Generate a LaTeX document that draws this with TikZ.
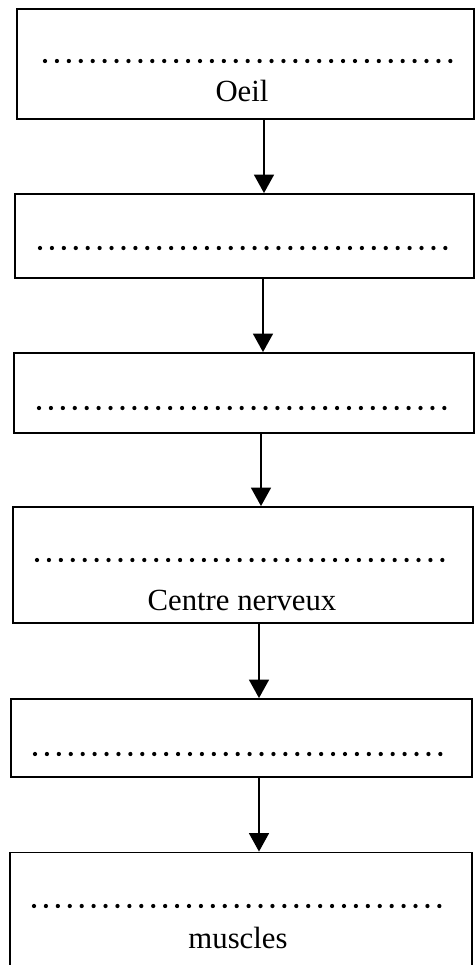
\documentclass[tikz,border=0pt]{standalone}
\usepackage{fontspec}
\setmainfont{Liberation Serif}
\usetikzlibrary{arrows.meta,calc}

\tikzset{
  etape/.style={draw=black, line width=1.1pt, minimum width=#1*0.02cm},
  pointilles/.style={line width=0.085cm, line cap=round, dash pattern=on 0pt off 0.2385cm},
  fleche/.style={line width=1pt, -{Triangle[width=0.4cm,length=0.37cm]}},
  mot/.style={font=\fontsize{17.5}{20}\selectfont, inner sep=0pt}
}

\begin{document}
\begin{tikzpicture}[x=0.02cm, y=-0.02cm]
  \clip (0,0) rectangle (476,965);

  % boites
  \node[etape=457, minimum height=2.2cm] (oeil) at (245.5, 64) {};
  \node[etape=459, minimum height=1.68cm] (b2) at (244.5, 236) {};
  \node[etape=460, minimum height=1.6cm] (b3) at (244, 393) {};
  \node[etape=460, minimum height=2.32cm] (centre) at (243, 565) {};
  \node[etape=461, minimum height=1.56cm] (b5) at (241.5, 738) {};
  \node[etape=462, minimum height=2.5cm] (muscles) at (241, 915) {};

  % lignes de points
  \draw[pointilles] (45, 61) -- (451, 61);
  \draw[pointilles] (40, 248) -- (446, 248);
  \draw[pointilles] (39, 408) -- (445, 408);
  \draw[pointilles] (37, 560) -- (443, 560);
  \draw[pointilles] (35, 754) -- (441, 754);
  \draw[pointilles] (34, 906) -- (440, 906);

  % textes
  \node[mot] (t1) at (242, 91) {Oeil};
  \node[mot] (t4) at (242, 600) {Centre nerveux};
  \node[mot] (t6) at (238, 938) {muscles};

  % fleches
  \draw[fleche] ($(oeil.south)+(18.5,0)$) -- ($(b2.north)+(19.5,0)$);
  \draw[fleche] ($(b2.south)+(18.5,0)$) -- ($(b3.north)+(19,0)$);
  \draw[fleche] ($(b3.south)+(17,0)$) -- ($(centre.north)+(18,0)$);
  \draw[fleche] ($(centre.south)+(16,0)$) -- ($(b5.north)+(17.5,0)$);
  \draw[fleche] ($(b5.south)+(17.5,0)$) -- ($(muscles.north)+(18,0)$);

\end{tikzpicture}
\end{document}
